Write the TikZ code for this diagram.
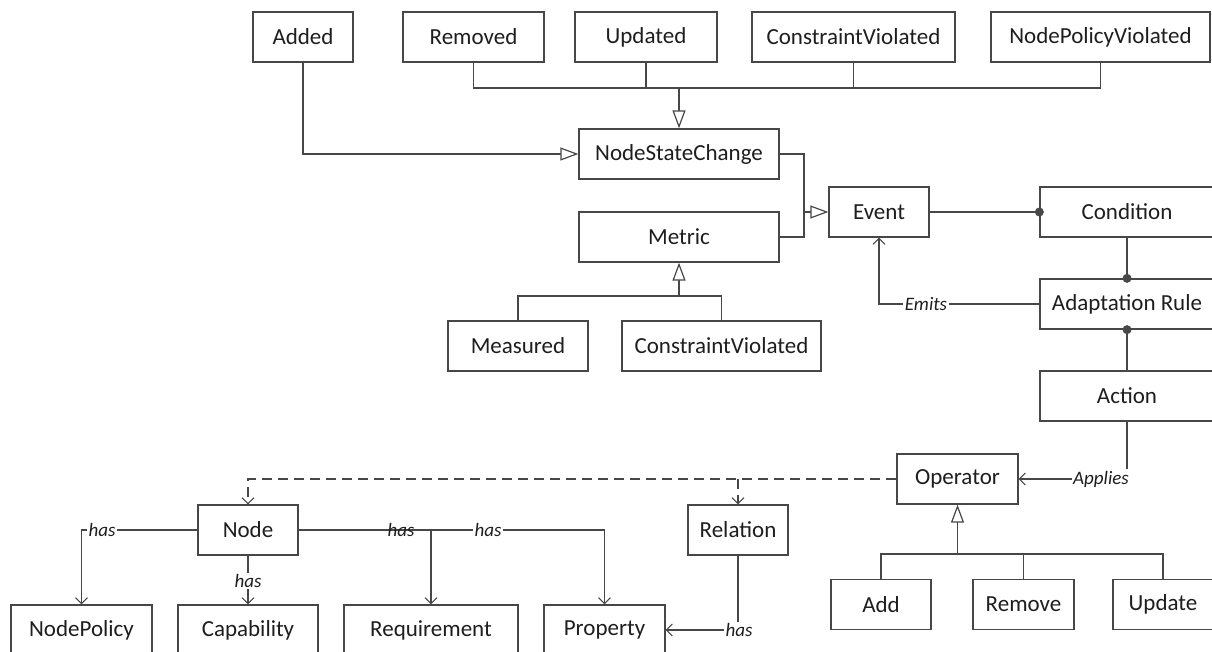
\documentclass[tikz,border=0pt]{standalone}
\usepackage{fontspec}
\setmainfont{Carlito}
\usetikzlibrary{arrows.meta}
\definecolor{ln}{HTML}{474747}
\definecolor{tx}{HTML}{1E1E1E}
\tikzset{
  box/.style={draw=ln, line width=1.3pt, fill=white, rectangle, inner sep=0pt,
              minimum height=50pt, font=\fontsize{23}{26}\selectfont, text=tx},
  link/.style={draw=ln, line width=1.1pt},
  gen/.style={link, -{Triangle[open, length=18pt, width=13pt, line width=1.2pt, fill=white]}},
  genstem/.style={gen, line width=1.9pt},
  assoc/.style={link, -{Straight Barb[length=6pt, width=12pt, line width=1pt]}},
  dep/.style={assoc, dash pattern=on 10pt off 6pt},
  lbl/.style={font=\fontsize{19}{22}\selectfont\itshape, text=tx, inner sep=1.5pt, fill=white},
  lblplain/.style={lbl, fill=none},
  dot/.style={fill=ln},
}
\begin{document}
\begin{tikzpicture}[x=1pt, y=-1pt]
\useasboundingbox (0,0) rectangle (1212,652);
\clip (0,0) rectangle (1212,652);

% event kinds
\node[box, minimum width=100pt] (added)   at (303,37)    {Added};
\node[box, minimum width=141pt] (removed) at (473.5,37)  {Removed};
\node[box, minimum width=142pt] (updated) at (646,37)    {Updated};
\node[box, minimum width=203pt] (cv)      at (853.5,37)  {ConstraintViolated};
\node[box, minimum width=219pt] (npv)     at (1100.5,37) {NodePolicyViolated};

\node[box, minimum width=200pt] (nsc)     at (679,154)   {NodeStateChange};
\node[box, minimum width=200pt] (metric)  at (679,237)   {Metric};
\node[box, minimum width=100pt] (event)   at (879,212)   {Event};
\node[box, minimum width=140pt] (measured) at (518,346)  {Measured};
\node[box, minimum width=199pt] (cv2)     at (721.5,346) {ConstraintViolated};

% rule chain
\node[box, minimum width=174pt] (condition) at (1127,212) {Condition};
\node[box, minimum width=174pt] (adaptrule) at (1127,304) {Adaptation Rule};
\node[box, minimum width=174pt] (action)    at (1127,396) {Action};

% operators
\node[box, minimum width=121pt] (operator) at (957.5,479)  {Operator};
\node[box, minimum width=100pt] (add)      at (881,604.5)  {Add};
\node[box, minimum width=101pt] (remove)   at (1023.5,604.5) {Remove};
\node[box, minimum width=100pt] (update)   at (1163,604.5) {Update};

% topology model
\node[box, minimum width=100pt] (node)        at (248,530)   {Node};
\node[box, minimum width=100pt] (relation)    at (738,530)   {Relation};
\node[box, minimum width=141pt] (nodepolicy)  at (81.5,630)  {NodePolicy};
\node[box, minimum width=140pt] (capability)  at (248,630)   {Capability};
\node[box, minimum width=174pt] (requirement) at (431,630)   {Requirement};
\node[box, minimum width=121pt] (property)    at (604.5,630) {Property};

% generalisation of the node state changes
\coordinate (busTop) at (679,88);
\draw[link] (removed.south) |- (busTop) -| (npv.south);
\draw[link] (updated.south) -- (updated.south |- busTop);
\draw[link] (cv.south) -- (cv.south |- busTop);
\draw[genstem] (busTop) -- (nsc.north);
\draw[gen] (added.south) |- (nsc.west);

% NodeStateChange and Metric are events
\coordinate (evJoin) at (804,212);
\draw[link] (nsc.east) -| (evJoin);
\draw[link] (metric.east) -| (evJoin);
\draw[gen] (evJoin) -- (event.west);

% metric kinds
\coordinate (busMetric) at (679,296);
\draw[link] (measured.north) |- (busMetric) -| (cv2.north);
\draw[genstem] (busMetric) -- (metric.south);

% rule composition
\draw[link] (event.east) -- (condition.west);
\fill[dot] (condition.west) circle (4.5pt);
\draw[link] (condition.south) -- (adaptrule.north);
\fill[dot] (adaptrule.north) circle (4.5pt);
\draw[link] (adaptrule.south) -- (action.north);
\fill[dot] (adaptrule.south) circle (4.5pt);

\draw[assoc] (adaptrule.west) -| (event.south);
\node[lbl] (lemits) at (926,304) {Emits};

\draw[assoc] (action.south) |- (operator.east);
\node[lbl] (lapplies) at (1101,479) {Applies};

% operator kinds
\coordinate (busOp) at (957.5,554);
\draw[link] (add.north) |- (busOp) -| (update.north);
\draw[link] (remove.north) -- (remove.north |- busOp);
\draw[genstem] (busOp) -- (operator.south);

% operators act on nodes and relations
\draw[dep] (operator.west) -| (node.north);
\draw[dep] (relation.north |- operator.west) -- (relation.north);

% node associations
\draw[assoc] (node.west) -| (nodepolicy.north);
\node[lbl] (lhas1) at (102,530) {has};
\draw[assoc] (node.south) -- (capability.north);
\node[lbl] (lhas2) at (248,581) {has};
\draw[assoc] (node.east) -| (property.north);
\node[lbl] (lhas4) at (488,530) {has};
\draw[assoc] (node.east) -| (requirement.north);
\node[lblplain] (lhas3) at (401,530) {has};
\draw[assoc] (relation.south) |- (property.east);
\node[lbl] (lhas5) at (739,630) {has};
\end{tikzpicture}
\end{document}
